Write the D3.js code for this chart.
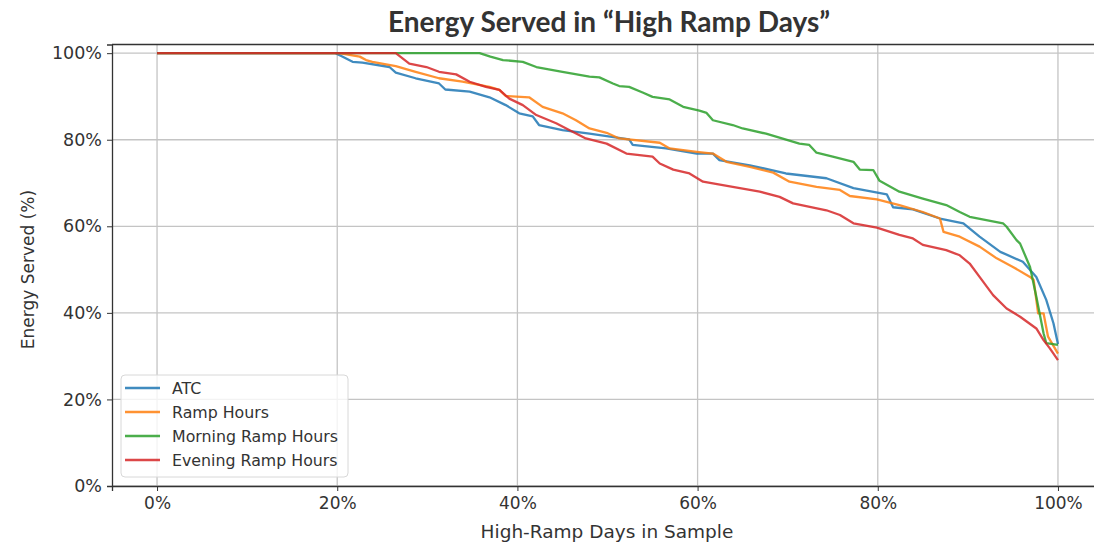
<!DOCTYPE html>
<html>
<head>
<meta charset="utf-8">
<script src="https://cdn.jsdelivr.net/npm/d3@7"></script>
<style>
  body { margin: 0; background: #fff; }
  svg { display: block; }
</style>
</head>
<body>
<svg width="1094" height="545"></svg>
<script>
// data: [days %, energy served %]
var atc = [[0,100],[19.8,100],[20.5,99.3],[21.7,98],[22.8,97.8],[25.8,96.8],[26.5,95.5],[28.7,94.2],[31.3,93],[32,91.6],
  [34.7,91.1],[36.9,89.8],[38.7,88],[40.2,86.1],[41.7,85.4],[42.4,83.4],[45,82.2],[48,81.4],[52.4,80.1],[52.8,78.8],
  [56.5,78],[59.9,76.8],[61.7,76.8],[62.4,75.3],[65.8,74.1],[69.8,72.2],[74.3,71.1],[77.3,68.8],[81,67.4],[81.7,64.4],
  [83.9,63.9],[86.9,61.8],[89.5,60.7],[91.3,57.6],[93.6,54.1],[96.1,51.8],[97.6,48.3],[98.7,43],[99.5,37.6],[100,32.8]];
var rampHours = [[0,100],[20.2,100],[22.5,99.2],[23.2,98.4],[23.9,98],[26.5,97],[28.7,95.7],[31.3,94.2],[33.9,93.4],[36.9,92.2],[38,91.5],
  [38.7,90.1],[41.3,89.8],[42.8,87.6],[45,86.1],[46.5,84.5],[48,82.6],[49.9,81.6],[51.3,80.3],[55.8,79.3],[56.9,78],
  [59.9,77.2],[61.7,76.8],[63.2,74.9],[65.8,73.7],[68.4,72.4],[70.2,70.3],[73.2,69.1],[75.8,68.4],[76.9,67],[79.9,66.2],
  [82.4,64.9],[85,63.3],[86.9,61.8],[87.3,58.7],[89.1,57.6],[91.3,55.3],[93.2,52.6],[95,50.6],[96.9,48.3],[97.3,47.6],
  [97.8,39.9],[98.4,39.9],[98.9,34.5],[100,30.6]];
var morningRamp = [[0,100],[35.8,100],[37,99.2],[38.4,98.4],[40.6,98],[42.1,96.8],[45,95.7],[48,94.6],[49.1,94.4],[50.6,93],
  [51.3,92.4],[52.4,92.2],[53.9,90.9],[55,89.9],[56.9,89.3],[58.4,87.6],[60.2,86.7],[61,86.2],[61.7,84.5],[63.9,83.4],
  [65,82.6],[67.6,81.4],[71.3,79.1],[72.4,78.8],[73.2,77],[75,76.1],[77.3,74.9],[78,73.1],[79.5,73],[80.2,70.5],[82.4,68],
  [85,66.4],[87.6,64.9],[89.1,63.3],[90.2,62.2],[93.9,60.7],[94.3,59.9],[95.4,56.8],[95.8,56],[96.9,50.6],[97.6,43.7],
  [98.4,35.3],[98.7,33],[100,32.6]];
var eveningRamp = [[0,100],[26.5,100],[28,97.6],[29.9,96.8],[31.3,95.7],[33.2,95.1],[34.7,93.4],[36.5,92.2],[38,91.5],[39.1,89.5],
  [40.6,88],[42.1,85.7],[44.3,83.8],[45.8,82.2],[47.6,80.3],[49.9,79.1],[52.1,76.8],[55,76.1],[55.8,74.5],[57.3,73.1],
  [59.1,72.2],[60.6,70.3],[63.9,69.1],[66.9,68],[69.1,66.8],[70.6,65.3],[74.3,63.7],[75.8,62.6],[77.3,60.7],[79.9,59.7],
  [82.4,58],[83.9,57.2],[85,55.7],[87.6,54.5],[89.1,53.3],[90.2,51.4],[91.3,48.3],[92.8,44.1],[94.3,41],[95.8,39.1],
  [97.6,36.4],[98.4,33.7],[99.1,31.8],[100,29.1]];

var seriesNames = ['ATC', 'Ramp Hours', 'Morning Ramp Hours', 'Evening Ramp Hours'];
var seriesColors = ['#1f77b4', '#ff7f0e', '#2ca02c', '#d62728'];
var xTicks = [0, 20, 40, 60, 80, 100];
var yTicks = [0, 20, 40, 60, 80, 100];

var series = [atc, rampHours, morningRamp, eveningRamp];

var svg = d3.select('svg');
var pLeft = 112, pRight = 1103, pTop = 44.5, pBottom = 486;

var x = d3.scaleLinear().domain([-5, 105]).range([pLeft, pRight]);
var y = d3.scaleLinear().domain([0, 102]).range([pBottom, pTop]);

// grid
var grid = svg.append('g');
grid.selectAll('.gx').data(xTicks).enter().append('line')
  .attr('x1', d => x(d)).attr('x2', d => x(d))
  .attr('y1', pTop).attr('y2', pBottom)
  .attr('stroke', '#c4c4c4').attr('stroke-width', 1.3);
grid.selectAll('.gy').data(yTicks).enter().append('line')
  .attr('x1', pLeft).attr('x2', pRight)
  .attr('y1', d => y(d)).attr('y2', d => y(d))
  .attr('stroke', '#c4c4c4').attr('stroke-width', 1.3);

// lines
var line = d3.line().x(d => x(d[0])).y(d => y(d[1]));
svg.append('g').selectAll('path').data(series).enter().append('path')
  .attr('d', line)
  .attr('fill', 'none')
  .attr('stroke', (d, i) => seriesColors[i])
  .attr('stroke-opacity', 0.85)
  .attr('stroke-width', 2.3)
  .attr('stroke-linejoin', 'round');

// axes
var xAxis = svg.append('g').attr('transform', 'translate(0,' + pBottom + ')')
  .call(d3.axisBottom(x).tickValues(xTicks).tickFormat(d => d + '%').tickSize(5).tickPadding(6));
var yAxis = svg.append('g').attr('transform', 'translate(' + pLeft + ',0)')
  .call(d3.axisLeft(y).tickValues(yTicks).tickFormat(d => d + '%').tickSize(5).tickPadding(5));
[xAxis, yAxis].forEach(a => {
  a.selectAll('text').attr('font-family', 'DejaVu Sans').attr('font-size', 17).attr('fill', '#333');
  a.selectAll('line').attr('stroke', '#333');
  a.select('.domain').attr('stroke', '#333').attr('stroke-width', 1.3);
});
yAxis.selectAll('text').attr('font-size', 17.5);

// top spine
svg.append('line').attr('x1', pLeft).attr('x2', pRight).attr('y1', pTop).attr('y2', pTop)
  .attr('stroke', '#333').attr('stroke-width', 1.3);

// labels
svg.append('text').attr('x', 607).attr('y', 538).attr('text-anchor', 'middle')
  .attr('font-family', 'DejaVu Sans').attr('font-size', 18.5).attr('fill', '#333')
  .text('High-Ramp Days in Sample');
svg.append('text').attr('transform', 'translate(34,' + y(50) + ') rotate(-90)').attr('text-anchor', 'middle')
  .attr('font-family', 'DejaVu Sans').attr('font-size', 17).attr('fill', '#333')
  .text('Energy Served (%)');
svg.append('text').attr('x', 609).attr('y', 32).attr('text-anchor', 'middle')
  .attr('font-family', 'Lato').attr('font-weight', 'bold').attr('font-size', 28).attr('fill', '#333')
  .text('Energy Served in \u201cHigh Ramp Days\u201d');

// legend
var legend = svg.append('g').attr('transform', 'translate(121,375)');
legend.append('rect').attr('width', 227).attr('height', 102).attr('rx', 4)
  .attr('fill', 'white').attr('fill-opacity', 0.8).attr('stroke', '#d8d8d8');
var items = legend.selectAll('.item').data(seriesNames).enter().append('g')
  .attr('transform', (d, i) => 'translate(0,' + (13 + i * 24) + ')');
items.append('line').attr('x1', 4).attr('x2', 39)
  .attr('stroke', (d, i) => seriesColors[i]).attr('stroke-opacity', 0.85).attr('stroke-width', 2.3);
items.append('text').attr('x', 51).attr('dy', '0.35em')
  .attr('font-family', 'DejaVu Sans').attr('font-size', 15.8).attr('fill', '#333')
  .text(d => d);
</script>
</body>
</html>
